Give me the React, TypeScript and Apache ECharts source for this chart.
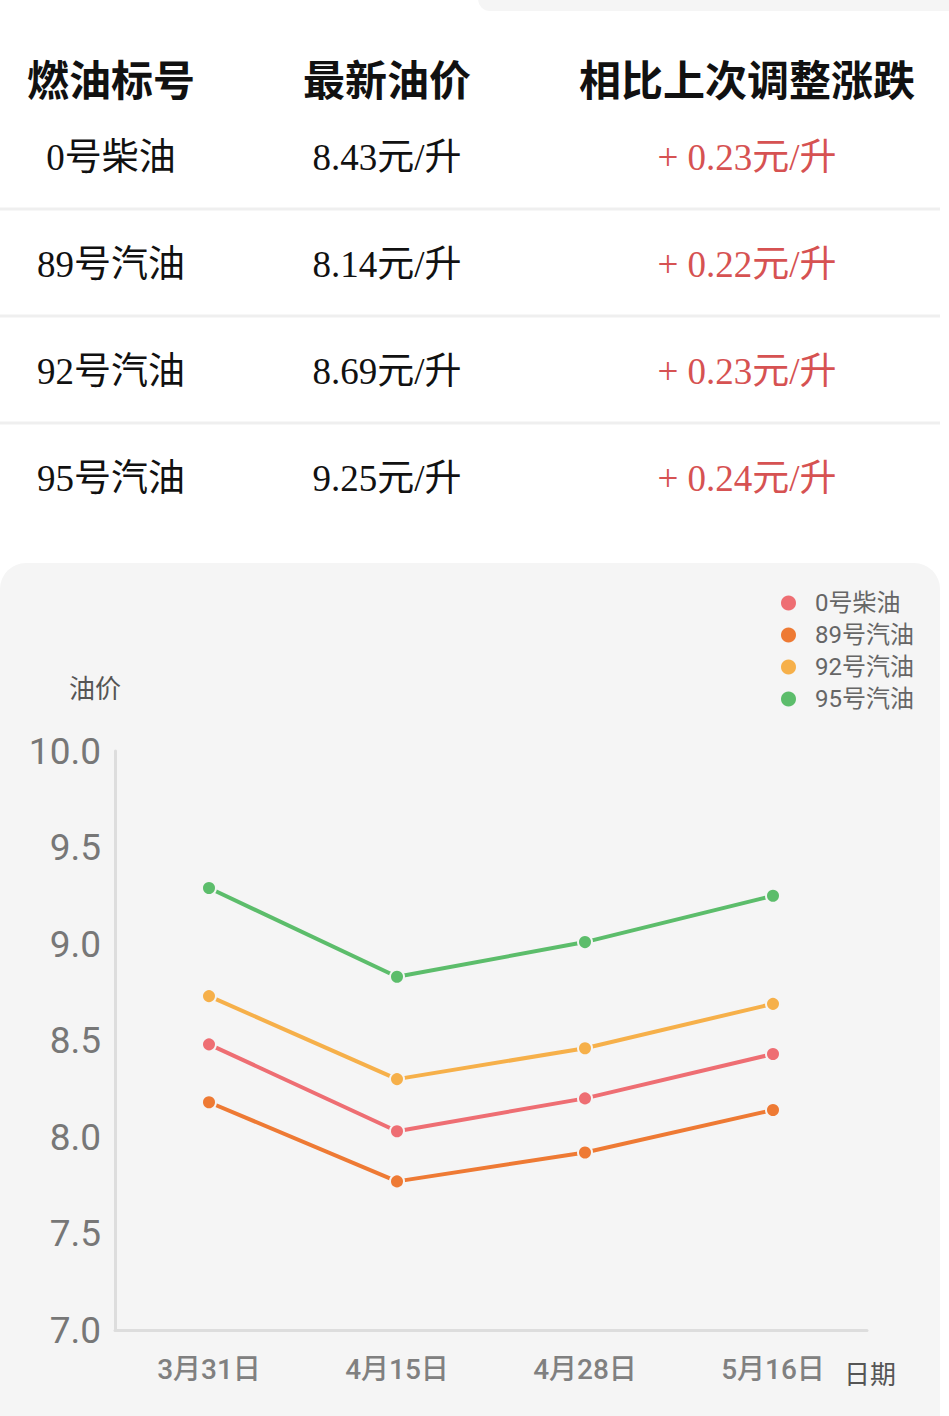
import React, { useEffect, useRef } from "react";
import * as echarts from "echarts";

// ---- Data ----
const fuelNames = ["0号柴油", "89号汽油", "92号汽油", "95号汽油"];
const latestPrices = ["8.43元/升", "8.14元/升", "8.69元/升", "9.25元/升"];
const priceChanges = ["+ 0.23元/升", "+ 0.22元/升", "+ 0.23元/升", "+ 0.24元/升"];
const tableHeaders = ["燃油标号", "最新油价", "相比上次调整涨跌"];

const dates = ["3月31日", "4月15日", "4月28日", "5月16日"];
const diesel0 = [8.48, 8.03, 8.2, 8.43];
const gas89 = [8.18, 7.77, 7.92, 8.14];
const gas92 = [8.73, 8.3, 8.46, 8.69];
const gas95 = [9.29, 8.83, 9.01, 9.25];
const seriesColors = ["#EE6E73", "#EE7A34", "#F6B04A", "#5CBD6B"];

const CJK = "'Noto Sans CJK SC', sans-serif";
const SERIF = "'Liberation Serif', 'Noto Sans CJK SC', serif";
const SANS = "Roboto, 'Noto Sans CJK SC', sans-serif";

export default function App() {
  const ref = useRef<HTMLDivElement>(null);

  useEffect(() => {
    if (!ref.current) return;
    const chart = echarts.init(ref.current, undefined, { renderer: "svg" });

    const colX = [111, 387, 747];
    const headerY = 77;
    const rowY = [157, 264, 371, 478];
    const sepY = [209, 316, 423];

    const graphics: any[] = [];
    graphics.push({
      type: "rect",
      z: -20,
      shape: { x: 478, y: -20, width: 490, height: 31, r: 12 },
      style: { fill: "#f5f5f5" },
    });
    graphics.push({
      type: "rect",
      z: -20,
      shape: { x: 0, y: 563, width: 940, height: 900, r: 26 },
      style: { fill: "#f5f5f5" },
    });
    tableHeaders.forEach((h, i) => {
      graphics.push({
        type: "text",
        x: colX[i],
        y: headerY,
        style: {
          text: h,
          fontSize: 42,
          fontWeight: "bold",
          fontFamily: CJK,
          fill: "#111",
          textAlign: "center",
          textVerticalAlign: "middle",
        },
      });
    });
    sepY.forEach((y) => {
      graphics.push({
        type: "line",
        shape: { x1: 0, y1: y, x2: 940, y2: y },
        style: { stroke: "#efefef", lineWidth: 3 },
      });
    });
    fuelNames.forEach((n, i) => {
      const y = rowY[i];
      graphics.push({
        type: "text",
        x: colX[0],
        y,
        style: { text: n, fontSize: 37, fontFamily: SERIF, fill: "#111", textAlign: "center", textVerticalAlign: "middle" },
      });
      graphics.push({
        type: "text",
        x: colX[1],
        y,
        style: { text: latestPrices[i], fontSize: 37, fontFamily: SERIF, fill: "#111", textAlign: "center", textVerticalAlign: "middle" },
      });
      graphics.push({
        type: "text",
        x: colX[2],
        y,
        style: { text: priceChanges[i], fontSize: 37, fontFamily: SERIF, fill: "#D65252", textAlign: "center", textVerticalAlign: "middle" },
      });
    });

    const seriesData = [diesel0, gas89, gas92, gas95];

    chart.setOption({
      animation: false,
      backgroundColor: "#ffffff",
      color: seriesColors,
      graphic: graphics,
      legend: {
        orient: "vertical",
        left: 779,
        top: 591,
        padding: 0,
        icon: "circle",
        itemWidth: 17,
        itemHeight: 17,
        itemGap: 8,
        textStyle: { fontSize: 24, color: "#666", fontFamily: SANS, padding: [0, 0, 0, 13] },
        data: fuelNames,
      },
      grid: { left: 115, right: 82, top: 751, bottom: 86, containLabel: false },
      xAxis: {
        type: "category",
        data: dates,
        boundaryGap: true,
        name: "日期",
        nameLocation: "end",
        nameGap: -23,
        nameTextStyle: { fontSize: 26, color: "#555", fontFamily: CJK, verticalAlign: "top", padding: [29, 0, 0, 0] },
        axisLine: { lineStyle: { color: "#dddddd", width: 3 } },
        axisTick: { show: false },
        axisLabel: { fontSize: 28, color: "#808080", fontWeight: 500, fontFamily: SANS, margin: 25 },
        splitLine: { show: false },
      },
      yAxis: {
        type: "value",
        min: 7,
        max: 10,
        interval: 0.5,
        name: "油价",
        nameLocation: "end",
        nameGap: 52,
        nameTextStyle: { fontSize: 26, color: "#555", fontFamily: CJK, padding: [0, 40, 0, 0] },
        axisLine: { show: true, lineStyle: { color: "#dddddd", width: 3 } },
        axisTick: { show: false },
        axisLabel: {
          fontSize: 37,
          color: "#777",
          fontFamily: SANS,
          margin: 14,
          formatter: (v: number) => v.toFixed(1),
        },
        splitLine: { show: false },
      },
      series: fuelNames.map((n, i) => ({
        name: n,
        type: "line",
        data: seriesData[i],
        symbol: "circle",
        symbolSize: 14,
        lineStyle: { width: 4, color: seriesColors[i] },
        itemStyle: { color: seriesColors[i], borderColor: "#f5f5f5", borderWidth: 2 },
      })),
    });

    return () => chart.dispose();
  }, []);

  return (
    <div
      ref={ref}
      style={{ position: "absolute", left: 0, top: 0, width: 949, height: 1416 }}
    />
  );
}
